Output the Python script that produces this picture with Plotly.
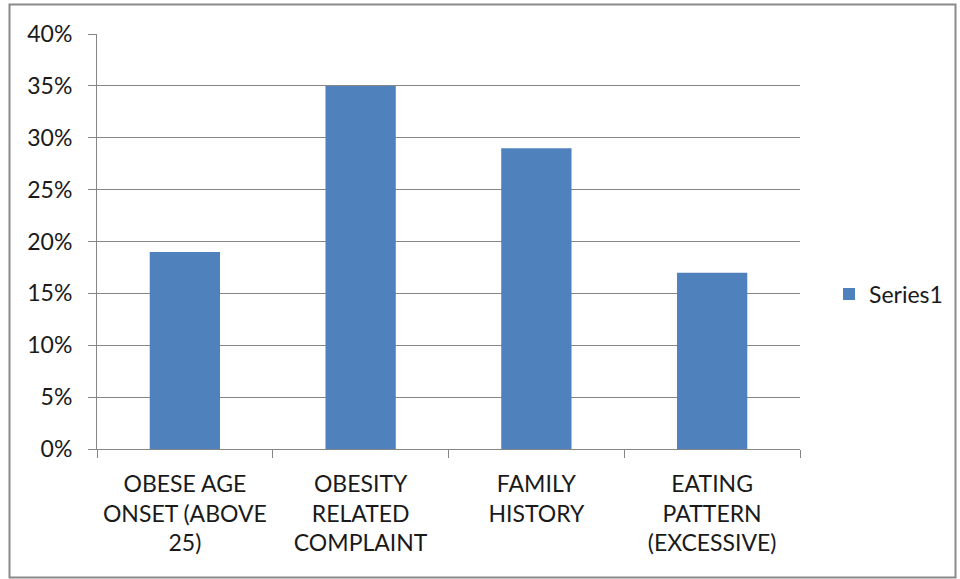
import plotly.graph_objects as go

categories = ["OBESE AGE<br>ONSET (ABOVE<br>25)", "OBESITY<br>RELATED<br>COMPLAINT", "FAMILY<br>HISTORY", "EATING<br>PATTERN<br>(EXCESSIVE)"]
values = [0.19, 0.35, 0.29, 0.17]
series_name = "Series1"
y_ticks = [0, 0.05, 0.10, 0.15, 0.20, 0.25, 0.30, 0.35, 0.40]
y_tick_labels = ["0%", "5%", "10%", "15%", "20%", "25%", "30%", "35%", "40%"]

W, H = 960, 579
L, R, T, B = 97, 800, 34, 449
pw, ph = R - L, B - T

def px_x(x):
    return (x - L) / pw

def px_y(y):
    return (B - y) / ph

font = dict(family="Lato, Carlito, Calibri, sans-serif", size=23, color="#1a1a1a")
grid = "#868686"

fig = go.Figure()
fig.add_trace(go.Bar(x=categories, y=values, name=series_name,
                     marker=dict(color="#4F81BD", line=dict(width=0)),
                     showlegend=True))

fig.update_layout(
    width=W, height=H,
    margin=dict(l=L, r=W - R, t=T, b=H - B, pad=0, autoexpand=False),
    paper_bgcolor="white", plot_bgcolor="white",
    font=font,
    bargap=0.6,
    showlegend=True,
    legend=dict(x=px_x(829), y=px_y(294), xanchor="left", yanchor="middle",
                font=font, bgcolor="rgba(0,0,0,0)", itemwidth=30),
    xaxis=dict(type="category", tickson="boundaries", ticks="outside", ticklen=8,
               tickcolor=grid, showline=True, linecolor=grid, linewidth=1,
               showgrid=False, tickfont=font, ticklabelstandoff=14),
    yaxis=dict(range=[0, 0.40], tickvals=y_ticks, ticktext=y_tick_labels,
               ticks="outside", ticklen=8, tickcolor=grid, showline=True,
               linecolor=grid, linewidth=1, showgrid=True, gridcolor=grid,
               gridwidth=1, zeroline=False, tickfont=font, ticklabelstandoff=11),
    shapes=[dict(type="rect", xref="paper", yref="paper",
                 x0=px_x(9.5), x1=px_x(955.5), y0=px_y(577.5), y1=px_y(4.5),
                 line=dict(color="#8a8a8a", width=2), fillcolor="rgba(0,0,0,0)",
                 layer="below")],
)

fig.write_html("out.html")
